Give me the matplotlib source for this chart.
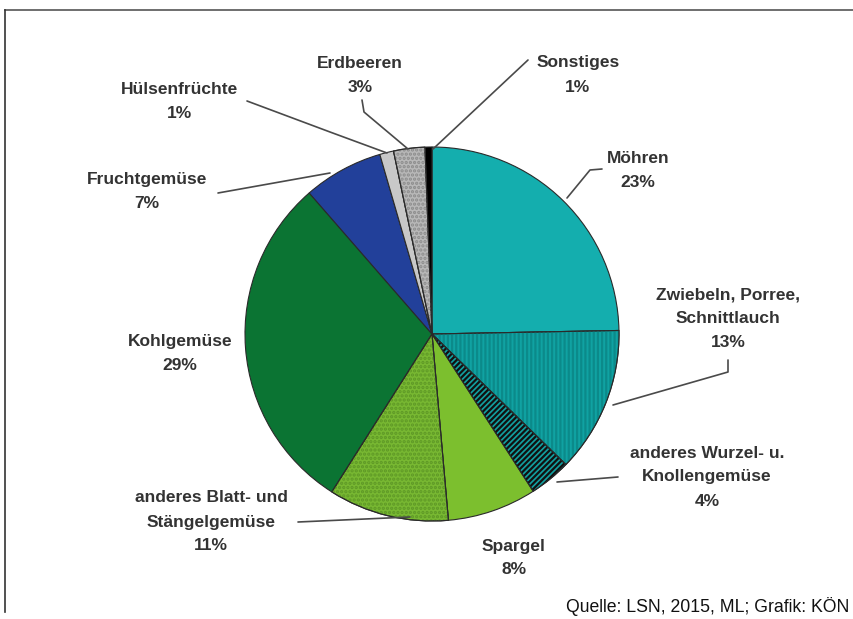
import matplotlib
matplotlib.use("Agg")
import matplotlib.pyplot as plt
from matplotlib.patches import Wedge

# Data (shares; labels as printed)
categories = ["Möhren", "Zwiebeln, Porree,\nSchnittlauch", "anderes Wurzel- u.\nKnollengemüse",
              "Spargel", "anderes Blatt- und\nStängelgemüse", "Kohlgemüse", "Fruchtgemüse",
              "Hülsenfrüchte", "Erdbeeren", "Sonstiges"]
shares = [24.7, 12.6, 3.6, 7.7, 10.4, 29.6, 6.9, 1.2, 2.7, 0.6]
pct_labels = ["23%", "13%", "4%", "8%", "11%", "29%", "7%", "1%", "3%", "1%"]

colors = ["#14AEAE", "#10A2A2", "#12A0A0", "#7CBF2E", "#78B832", "#0B7433",
          "#22409A", "#C8C8C8", "#B8B8B8", "#000000"]
hatches = [None, "||||", "//////", None, "....", None, None, None, "....", None]
hatch_colors = [None, "#0B8A8A", "#111111", None, "#5E9826", None, None, None, "#8C8C8C", None]

W, H = 854, 619
fig = plt.figure(figsize=(W / 100, H / 100), dpi=100)
ax = fig.add_axes([0, 0, 1, 1])

def Y(y):
    return H - y

cx, cy, R = 432, Y(334), 187
plt.rcParams["hatch.linewidth"] = 1.6
wedges, _ = ax.pie(shares, colors=colors, startangle=90, counterclock=False,
                   center=(cx, cy), radius=R, frame=True,
                   wedgeprops=dict(edgecolor="#2a2a2a", linewidth=0.8))
ax.set_xlim(0, W)
ax.set_ylim(0, H)
ax.set_aspect("equal")
ax.axis("off")

for w, h, hc in zip(wedges, hatches, hatch_colors):
    if h:
        ov = Wedge((cx, cy), R, w.theta1, w.theta2, facecolor="none",
                   edgecolor=hc, hatch=h, linewidth=0, zorder=w.get_zorder() + 0.1)
        ax.add_patch(ov)
        ol = Wedge((cx, cy), R, w.theta1, w.theta2, facecolor="none",
                   edgecolor="#2a2a2a", linewidth=0.8, zorder=w.get_zorder() + 0.2)
        ax.add_patch(ol)

# label positions (pixel coords of text block centre)
label_pos = [(638, 171), (728, 319), (707, 477), (514, 558), (211, 522),
             (180, 354), (147, 192), (180, 101), (360, 75), (578, 75)]
for name, pct, (x, y) in zip(categories, pct_labels, label_pos):
    ax.text(x, Y(y), name + "\n" + pct, ha="center", va="center",
            fontsize=12.5, fontweight="bold", color="#333333",
            family="Liberation Sans", linespacing=1.75)

# leader lines (pixel coords)
leaders = [
    [(602, 169), (590, 170), (567, 198)],
    [(728, 360), (728, 372), (613, 405)],
    [(618, 477), (557, 482)],
    [(298, 522), (410, 517)],
    [(218, 193), (330, 173)],
    [(247, 101), (330, 132), (387, 153)],
    [(362, 100), (364, 112), (408, 149)],
    [(528, 60), (433, 149)],
]
for pts in leaders:
    xs = [p[0] for p in pts]
    ys = [Y(p[1]) for p in pts]
    ax.plot(xs, ys, color="#4a4a4a", lw=1.2, solid_capstyle="round")

# frame lines
ax.plot([5, W], [Y(10), Y(10)], color="#555555", lw=1.2)
ax.plot([5, 5], [Y(10), Y(612)], color="#333333", lw=1.2)

ax.text(849, Y(607), "Quelle: LSN, 2015, ML; Grafik: KÖN", ha="right", va="center",
        fontsize=12.7, color="#111111", family="Liberation Sans")

fig.savefig("out.png", dpi=100)
